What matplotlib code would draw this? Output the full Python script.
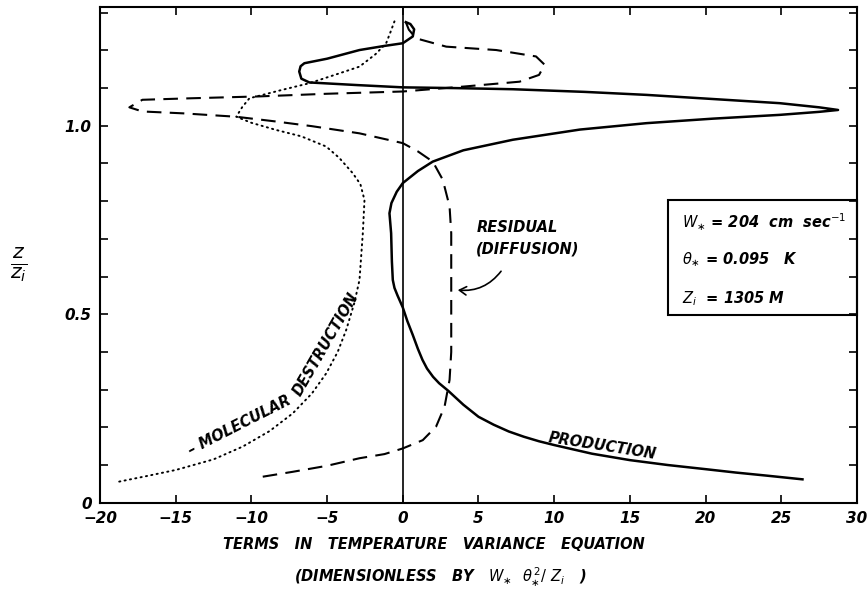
import matplotlib
matplotlib.use("Agg")
import matplotlib.pyplot as plt
from matplotlib.patches import Rectangle, FancyArrowPatch

plt.rcParams["mathtext.fontset"] = "dejavusans"

# production term (solid)
prod_x = [26.4, 24.0, 22.0, 20.0, 17.5, 15.0, 12.5, 10.0, 9.0, 8.0, 7.0, 6.0, 5.0, 4.0,
          3.0, 2.4, 2.0, 1.6, 1.3, 1.0, 0.66, 0.3, 0.0, -0.35, -0.55, -0.66, -0.72,
          -0.77, -0.88, -0.75, -0.4, 0.0, 1.0,
          1.98, 4.0, 7.27, 11.7, 16.1, 20.5, 24.9, 27.5, 28.75, 27.5, 24.9, 20.5, 16.1,
          12.0, 7.27, 3.5, 0.0, -3.0, -6.17, -6.7, -6.84, -6.75, -6.5, -5.0, -2.86, -1.2,
          0.0, 0.66, 0.75, 0.5, 0.2]
prod_z = [0.062, 0.072, 0.080, 0.089, 0.100, 0.113, 0.130, 0.153, 0.163, 0.175, 0.189,
          0.207, 0.228, 0.260, 0.297, 0.317, 0.334, 0.356, 0.379, 0.408, 0.445, 0.482,
          0.518, 0.550, 0.570, 0.591, 0.640, 0.715,
          0.768, 0.795, 0.825, 0.848, 0.880, 0.905, 0.935, 0.963, 0.990, 1.007, 1.019,
          1.029, 1.037, 1.042, 1.049, 1.060, 1.071, 1.082, 1.090, 1.097, 1.100, 1.102,
          1.108, 1.115, 1.125, 1.144, 1.158, 1.166, 1.178, 1.201, 1.212, 1.219, 1.237,
          1.256, 1.270, 1.275]

# residual (diffusion) term (dashed)
resid_x = [-9.25, -7.27, -5.0, -2.86, -1.21, 0.0, 1.32, 2.2, 2.76, 3.09, 3.2, 3.2, 3.2,
           3.09, 2.64, 1.98, 1.0, 0.0, -2.86, -6.0, -8.5, -11.0, -14.5, -17.2, -18.06,
           -17.2, -14.0, -9.47, -5.0, 0.0, 4.0, 7.71, 9.0, 9.37, 8.8, 6.17, 2.87, 0.88,
           0.4, 0.2]
resid_z = [0.069, 0.082, 0.098, 0.118, 0.129, 0.144, 0.166, 0.202, 0.255, 0.326, 0.400,
           0.565, 0.715, 0.786, 0.857, 0.905, 0.932, 0.954, 0.980, 0.999, 1.012, 1.024,
           1.033, 1.038, 1.049, 1.069, 1.073, 1.078, 1.085, 1.091, 1.104, 1.117, 1.135,
           1.162, 1.184, 1.201, 1.210, 1.232, 1.255, 1.275]

# molecular destruction term (dotted)
dest_x = [-18.73, -17.0, -14.98, -12.5, -10.57, -8.8, -7.27, -6.0, -5.06, -4.3, -3.74,
          -3.2, -2.86, -2.64, -2.53, -2.8, -3.3, -4.2, -5.06, -6.7, -8.37, -10.0, -11.0,
          -10.6, -10.13, -8.0, -6.17, -4.5, -2.86, -1.8, -1.1, -0.8, -0.55]
dest_z = [0.056, 0.070, 0.087, 0.115, 0.149, 0.190, 0.237, 0.290, 0.343, 0.400, 0.458,
          0.530, 0.591, 0.715, 0.803, 0.845, 0.874, 0.915, 0.945, 0.972, 0.989, 1.008,
          1.024, 1.050, 1.073, 1.095, 1.113, 1.135, 1.157, 1.190, 1.219, 1.250, 1.277]

x_ticks = [-20, -15, -10, -5, 0, 5, 10, 15, 20, 25, 30]
y_labels = {0.0: "0", 0.5: "0.5", 1.0: "1.0"}

font = dict(family="DejaVu Sans", style="italic", weight="bold", color="black")

fig = plt.figure(figsize=(8.68, 5.89), dpi=100)
ax = fig.add_axes([0.1152, 0.1465, 0.8721, 0.8415])

ax.plot(prod_x, prod_z, color="black", lw=1.8, solid_joinstyle="round")
ax.plot(resid_x, resid_z, color="black", lw=1.5, linestyle=(0, (7, 4)))
ax.plot(dest_x, dest_z, color="black", lw=1.4, linestyle=(0, (0.6, 2.2)),
        dash_capstyle="round")
ax.axvline(0, color="black", lw=1.2)

ax.set_xlim(-20, 30)
ax.set_ylim(0, 1.315)
ax.set_xticks(x_ticks)
ax.set_xticklabels([str(t).replace("-", "\u2212") if t else "0" for t in x_ticks],
                   fontsize=11, **font)
yt = [round(0.1 * i, 1) for i in range(14)]
ax.set_yticks(yt)
ax.set_yticklabels([y_labels.get(t, "") for t in yt], fontsize=11, **font)
ax.tick_params(direction="in", length=6, width=1.2, top=True, right=True, pad=6)
for s in ax.spines.values():
    s.set_linewidth(1.5)

# info box
ax.add_patch(Rectangle((17.5, 0.498), 12.5, 0.305, fill=False, lw=1.5, ec="black",
                       clip_on=False))
ax.text(18.45, 0.744, r"$W_{\ast}$ = 204  cm  sec$^{-1}$", fontsize=10.5, va="center",
        **font)
ax.text(18.45, 0.644, r"$\theta_{\ast}$ = 0.095   K", fontsize=10.5, va="center", **font)
ax.text(18.45, 0.542, r"$Z_i$  = 1305 M", fontsize=10.5, va="center", **font)

# curve labels
ax.text(4.85, 0.729, "RESIDUAL", fontsize=10.5, va="center", **font)
ax.text(4.85, 0.672, "(DIFFUSION)", fontsize=10.5, va="center", **font)
ax.add_patch(FancyArrowPatch((6.6, 0.62), (3.45, 0.565), arrowstyle="->,head_length=5,head_width=3",
                             connectionstyle="arc3,rad=-0.3", lw=1.2, color="black"))
ax.text(13.2, 0.150, "PRODUCTION", fontsize=10.5, rotation=-9, ha="center", va="center",
        rotation_mode="anchor", **font)
ax.text(-10.8, 0.205, "\u2013 MOLECULAR", fontsize=10.5, rotation=27, ha="center",
        va="center", rotation_mode="anchor", **font)
ax.text(-5.1, 0.42, "DESTRUCTION", fontsize=10.5, rotation=60, ha="center", va="center",
        rotation_mode="anchor", **font)

# axis labels
fig.text(0.5, 0.075, "TERMS   IN   TEMPERATURE   VARIANCE   EQUATION", fontsize=10.5,
         ha="center", va="center", **font)
fig.text(0.507, 0.02, r"(DIMENSIONLESS   BY   $W_{\ast}$  $\theta_{\ast}^{\,2}/\ Z_i$   )",
         fontsize=10.5, ha="center", va="center", **font)
fig.text(0.022, 0.55, r"$\frac{z}{z_i}$", fontsize=21, ha="center", va="center", **font)

fig.savefig("out.png", dpi=100)
